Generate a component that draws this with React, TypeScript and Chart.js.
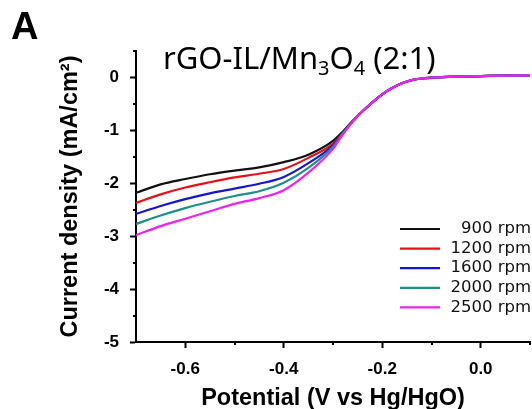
import React, { useEffect, useRef } from "react";
import { Chart, registerables } from "chart.js";

Chart.register(...registerables);

// ---- data ----
const potentials = [-0.70, -0.65, -0.60, -0.55, -0.50, -0.45, -0.40, -0.35, -0.30, -0.28, -0.26, -0.24, -0.22, -0.20, -0.18, -0.16, -0.14, -0.12, -0.10, -0.08, -0.05, 0.00, 0.05, 0.10];
const common = [-0.64, -0.47, -0.32, -0.20, -0.11, -0.05, -0.02, -0.005, 0.005, 0.015, 0.025, 0.035, 0.04];
const rpm900 = [-2.18, -2.02, -1.92, -1.83, -1.76, -1.70, -1.60, -1.46, -1.20, -1.02, -0.82, ...common];
const rpm1200 = [-2.37, -2.21, -2.08, -1.98, -1.89, -1.82, -1.73, -1.52, -1.25, -1.04, -0.83, ...common];
const rpm1600 = [-2.58, -2.43, -2.30, -2.19, -2.10, -2.01, -1.88, -1.62, -1.28, -1.05, -0.83, ...common];
const rpm2000 = [-2.77, -2.61, -2.47, -2.35, -2.24, -2.15, -1.99, -1.71, -1.31, -1.06, -0.835, ...common];
const rpm2500 = [-2.98, -2.81, -2.67, -2.53, -2.39, -2.28, -2.13, -1.80, -1.35, -1.08, -0.84, ...common];

const seriesLabels = ["  900 rpm", "1200 rpm", "1600 rpm", "2000 rpm", "2500 rpm"];
const seriesValues = [rpm900, rpm1200, rpm1600, rpm2000, rpm2500];
const seriesColors = ["#111111", "#e8101a", "#1515d8", "#1f8f88", "#f020f0"];

const xMajorTicks = [-0.6, -0.4, -0.2, 0.0];
const xMinorTicks = [-0.5, -0.3, -0.1, 0.1];
const yMajorTicks = [-5, -4, -3, -2, -1, 0];
const yMinorTicks = [-4.5, -3.5, -2.5, -1.5, -0.5, 0.5];

const titleParts = [
  { text: "rGO-IL/Mn", sub: false },
  { text: "3", sub: true },
  { text: "O", sub: false },
  { text: "4", sub: true },
  { text: " (2:1)", sub: false },
];
const panelLetter = "A";
const xTitle = "Potential (V vs Hg/HgO)";
const yTitle = "Current density (mA/cm\u00B2)";

const BOLD = "'Liberation Sans', Arial, sans-serif";

const decorPlugin = {
  id: "decor",
  afterDraw(chart: any) {
    const ctx = chart.ctx as CanvasRenderingContext2D;
    const xs = chart.scales.x;
    const ys = chart.scales.y;
    ctx.save();
    // minor ticks
    ctx.strokeStyle = "#000";
    ctx.lineWidth = 2;
    const bottom = chart.chartArea.bottom;
    const left = chart.chartArea.left;
    xMinorTicks.forEach((v) => {
      const px = Math.round(xs.getPixelForValue(v));
      ctx.beginPath();
      ctx.moveTo(px, bottom);
      ctx.lineTo(px, bottom + 3);
      ctx.stroke();
    });
    yMinorTicks.forEach((v) => {
      const py = Math.round(ys.getPixelForValue(v));
      ctx.beginPath();
      ctx.moveTo(left, py);
      ctx.lineTo(left - 3, py);
      ctx.stroke();
    });

    // legend
    ctx.font = "16.5px 'DejaVu Sans', sans-serif";
    ctx.textBaseline = "middle";
    ctx.textAlign = "right";
    chart.data.datasets.forEach((ds: any, i: number) => {
      const y = 229 + i * 19.6;
      ctx.strokeStyle = ds.borderColor;
      ctx.lineWidth = 2.2;
      ctx.beginPath();
      ctx.moveTo(400, y);
      ctx.lineTo(440, y);
      ctx.stroke();
      ctx.fillStyle = "#111";
      ctx.fillText(ds.label, 531, y);
    });

    // panel letter
    ctx.textAlign = "left";
    ctx.textBaseline = "alphabetic";
    ctx.fillStyle = "#000";
    ctx.font = `bold 38px ${BOLD}`;
    ctx.fillText(panelLetter, 11, 39);

    // in-plot title with subscripts
    let x = 163;
    const base = 69;
    titleParts.forEach((p) => {
      ctx.font = p.sub ? "20px 'Noto Sans', sans-serif" : "31px 'Noto Sans', sans-serif";
      ctx.fillText(p.text, x, p.sub ? base + 6 : base);
      x += ctx.measureText(p.text).width;
    });
    ctx.restore();
  },
};

export default function App() {
  const ref = useRef<HTMLCanvasElement>(null);
  useEffect(() => {
    const canvas = ref.current!;
    const chart = new Chart(canvas, {
      type: "line",
      data: {
        datasets: seriesValues.map((vals, i) => ({
          label: seriesLabels[i],
          data: potentials.map((p, j) => ({ x: p, y: vals[j] })),
          borderColor: seriesColors[i],
          backgroundColor: seriesColors[i],
          borderWidth: 2.2,
          pointRadius: 0,
          cubicInterpolationMode: "monotone" as const,
          order: seriesValues.length - 1 - i,
        })),
      },
      options: {
        animation: false,
        responsive: false,
        devicePixelRatio: 1,
        layout: { padding: { top: 51, right: 2, left: 0, bottom: 0 } },
        plugins: { legend: { display: false }, tooltip: { enabled: false } },
        scales: {
          x: {
            type: "linear",
            min: -0.7,
            max: 0.1,
            afterBuildTicks: (s: any) => {
              s.ticks = xMajorTicks.map((v) => ({ value: v }));
            },
            afterFit: (s: any) => {
              s.height = 67;
            },
            ticks: {
              callback: (v: any) => Number(v).toFixed(1),
              font: { family: BOLD, size: 17, weight: "bold" },
              color: "#000",
              padding: 11,
              maxRotation: 0,
            },
            grid: { drawOnChartArea: false, drawTicks: true, tickLength: 6, tickWidth: 2, tickColor: "#000" },
            border: { display: true, width: 2, color: "#000" },
            title: {
              display: true,
              text: xTitle,
              font: { family: BOLD, size: 23.5, weight: "bold", lineHeight: 1 },
              color: "#000",
              padding: { top: 0, bottom: -1 },
            },
          },
          y: {
            type: "linear",
            min: -5,
            max: 0.5,
            afterBuildTicks: (s: any) => {
              s.ticks = yMajorTicks.map((v) => ({ value: v }));
            },
            afterFit: (s: any) => {
              s.width = 136;
            },
            ticks: {
              callback: (v: any) => String(v),
              font: { family: BOLD, size: 17, weight: "bold" },
              color: "#000",
              padding: 11,
            },
            grid: { drawOnChartArea: false, drawTicks: true, tickLength: 6, tickWidth: 2, tickColor: "#000" },
            border: { display: true, width: 2, color: "#000" },
            title: {
              display: true,
              text: yTitle,
              font: { family: BOLD, size: 23.5, weight: "bold", lineHeight: 1 },
              color: "#000",
              padding: { top: 59, bottom: 0 },
            },
          },
        },
      },
      plugins: [decorPlugin],
    });
    return () => chart.destroy();
  }, []);
  return (
    <div style={{ position: "fixed", left: 0, top: 0, width: 532, height: 409, background: "#fff" }}>
      <canvas ref={ref} width={532} height={409} style={{ display: "block", width: 532, height: 409 }} />
    </div>
  );
}
